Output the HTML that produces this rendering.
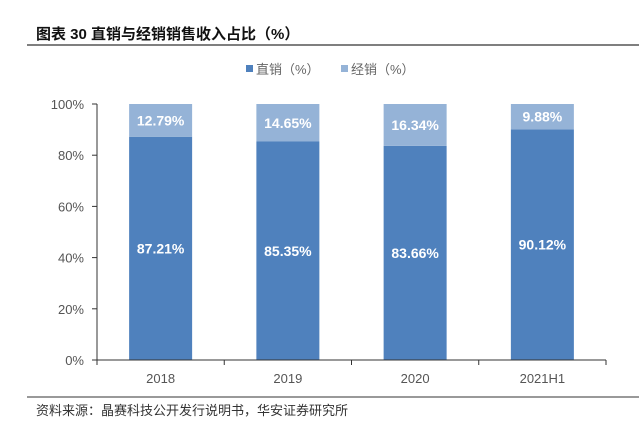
<!DOCTYPE html>
<html><head><meta charset="utf-8"><style>
body{margin:0;background:#fff;width:639px;height:423px;overflow:hidden;font-family:"Liberation Sans","Noto Sans CJK SC",sans-serif}
</style></head><body>
<svg width="639" height="423">
<text x="36" y="39" font-size="15" font-weight="bold" fill="#111" font-family="Liberation Sans,Noto Sans CJK SC,sans-serif">图表 30 直销与经销销售收入占比（%）</text>
<line x1="27" y1="45" x2="639" y2="45" stroke="#333" stroke-width="1.2"/>
<g font-size="13" fill="#666">
<rect x="246" y="65" width="7" height="7" fill="#4f81bd"/>
<text x="256" y="74">直销（%）</text>
<rect x="341" y="65" width="7" height="7" fill="#95b3d7"/>
<text x="351" y="74">经销（%）</text>
</g>
<g id="plot"></g>
<line x1="27" y1="397" x2="639" y2="397" stroke="#333" stroke-width="1"/>
<text x="36" y="415" font-size="13" fill="#333">资料来源：晶赛科技公开发行说明书，华安证券研究所</text>
</svg>
<script>
const categories=["2018","2019","2020","2021H1"];
const direct=[87.21,85.35,83.66,90.12];
const dealer=[12.79,14.65,16.34,9.88];
const yTicks=[0,20,40,60,80,100];
const NS="http://www.w3.org/2000/svg";
const g=document.getElementById('plot');
const x0=97,x1=606,y0=360,y1=104;
const bw=(x1-x0)/categories.length;
const y=v=>y0-(v/100)*(y0-y1);
function mk(t,a){const e=document.createElementNS(NS,t);for(const k in a)e.setAttribute(k,a[k]);g.appendChild(e);return e;}
yTicks.forEach(t=>{
 const tx=mk('text',{x:x0-13,y:y(t)+5,'text-anchor':'end','font-size':13,fill:'#555'});tx.textContent=t+'%';
 
 
 const l=mk('line',{x1:x0-5,x2:x0,y1:y(t),y2:y(t),stroke:'#333'});
 
 
});
categories.forEach((c,i)=>{
 const cx=x0+bw*(i+0.5),w=63;
 const r1=mk('rect',{x:cx-w/2,y:y(direct[i]),width:w,height:y0-y(direct[i]),fill:'#4f81bd'});
 
 
 const r2=mk('rect',{x:cx-w/2,y:y(direct[i]+dealer[i]),width:w,height:y(direct[i])-y(direct[i]+dealer[i]),fill:'#95b3d7'});
 
 
 const t1=mk('text',{x:cx,y:y(direct[i]/2)+5,'text-anchor':'middle','font-size':14,'font-weight':'bold',fill:'#fff'});t1.textContent=direct[i].toFixed(2)+'%';
 
 
 const t2=mk('text',{x:cx,y:y(direct[i]+dealer[i]/2)+5,'text-anchor':'middle','font-size':14,'font-weight':'bold',fill:'#fff'});t2.textContent=dealer[i].toFixed(2)+'%';
 
 
 const xl=mk('text',{x:cx,y:y0+23,'text-anchor':'middle','font-size':13,fill:'#555'});xl.textContent=c;
 
 
});
for(let i=0;i<=categories.length;i++){
 const l=mk('line',{x1:x0+bw*i,x2:x0+bw*i,y1:y0,y2:y0+5,stroke:'#333'});
 
 
}
const ya=mk('line',{x1:x0,x2:x0,y1:y1,y2:y0,stroke:'#333'});


const xa=mk('line',{x1:x0,x2:x1,y1:y0,y2:y0,stroke:'#333'});


</script>
</body></html>
